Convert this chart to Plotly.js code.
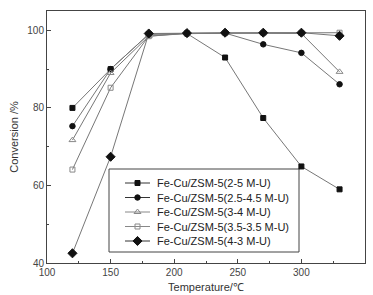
<!DOCTYPE html>
<html>
<head>
<meta charset="utf-8">
<script src="https://cdn.plot.ly/plotly-3.0.1.min.js"></script>
<style>html,body{margin:0;padding:0;background:#fff;}#chart{width:373px;height:295px;}</style>
</head>
<body>
<div id="chart"></div>
<script>
var temperature = [120, 150, 180, 210, 240, 270, 300, 330];
var names = [
  "Fe-Cu/ZSM-5(2-5 M-U)",
  "Fe-Cu/ZSM-5(2.5-4.5 M-U)",
  "Fe-Cu/ZSM-5(3-4 M-U)",
  "Fe-Cu/ZSM-5(3.5-3.5 M-U)",
  "Fe-Cu/ZSM-5(4-3 M-U)"
];
var conv_2_5     = [80.0, 90.0, 99.0, 99.2, 93.0, 77.4, 64.9, 59.0];
var conv_25_45   = [75.3, 90.0, 99.0, 99.2, 99.3, 96.4, 94.2, 86.1];
var conv_3_4     = [71.7, 89.0, 98.5, 99.2, 99.3, 99.3, 99.2, 89.3];
var conv_35_35   = [64.1, 85.2, 98.5, 99.3, 99.3, 99.3, 99.3, 99.4];
var conv_4_3     = [42.5, 67.4, 99.2, 99.3, 99.4, 99.4, 99.4, 98.6];
var seriesValues = [conv_2_5, conv_25_45, conv_3_4, conv_35_35, conv_4_3];
var symbols = ["square", "circle", "triangle-up-open", "square-open", "diamond"];
var markerColors = ["#111", "#111", "#888", "#888", "#111"];
var markerSizes = [5, 5.5, 6, 5, 7];
var lineColor = "#777";

var traces = seriesValues.map(function(v, i){
  return {
    x: temperature, y: v, name: names[i], type: "scatter", mode: "lines+markers",
    showlegend: false,
    line: {color: lineColor, width: 1},
    marker: {symbol: symbols[i], color: markerColors[i], size: markerSizes[i], line: {color: markerColors[i], width: 1}}
  };
});

// Custom legend drawn on a pixel-scaled overlay axis (layout only)
var plotL = 47, plotR = 365, plotT = 11, plotB = 263;
var legBox = {x0: 109, x1: 299, y0: 169, y1: 252};
var legRow0 = 183, legRowStep = 14.5;
var legLineX0 = 125, legLineX1 = 150, legTextX = 155;
var annotations = [];
names.forEach(function(n, i){
  var ry = legRow0 + i * legRowStep;
  traces.push({
    x: [legLineX0, legLineX1], y: [ry, ry], xaxis: "x2", yaxis: "y2",
    type: "scatter", mode: "lines", showlegend: false, hoverinfo: "skip",
    line: {color: markerColors[i] === "#111" ? "#333" : "#888", width: 1}
  });
  traces.push({
    x: [(legLineX0 + legLineX1) / 2], y: [ry], xaxis: "x2", yaxis: "y2",
    type: "scatter", mode: "markers", showlegend: false, hoverinfo: "skip",
    marker: {symbol: symbols[i], color: markerColors[i], size: markerSizes[i], line: {color: markerColors[i], width: 1}}
  });
  annotations.push({
    xref: "x2", yref: "y2", x: legTextX, y: ry, xanchor: "left", yanchor: "middle",
    text: n, showarrow: false, font: {size: 11, color: "#222"}
  });
});

var layout = {
  width: 373, height: 295,
  margin: {l: plotL, r: 373 - plotR, t: plotT, b: 295 - plotB},
  paper_bgcolor: "#fff", plot_bgcolor: "#fff",
  font: {family: "Liberation Sans, Arial, sans-serif", color: "#333", size: 10},
  showlegend: false,
  xaxis: {
    range: [100, 350], tickvals: [100, 150, 200, 250, 300, 350],
    showline: true, linecolor: "#444", linewidth: 1, mirror: true,
    ticks: "inside", ticklen: 4, tickcolor: "#444",
    minor: {dtick: 25, ticks: "inside", ticklen: 2, tickcolor: "#444", showgrid: false},
    showgrid: false, zeroline: false,
    tickfont: {size: 10, color: "#444"},
    title: {text: "Temperature/\u2103", font: {size: 11, color: "#333"}, standoff: 6}
  },
  yaxis: {
    range: [40, 105], tickvals: [40, 60, 80, 100],
    showline: true, linecolor: "#444", linewidth: 1, mirror: true,
    ticks: "inside", ticklen: 4, tickcolor: "#444",
    minor: {dtick: 10, ticks: "inside", ticklen: 2, tickcolor: "#444", showgrid: false},
    showgrid: false, zeroline: false,
    tickfont: {size: 10, color: "#444"},
    title: {text: "Conversion /%", font: {size: 11, color: "#333"}, standoff: 6}
  },
  xaxis2: {overlaying: "x", range: [plotL, plotR], visible: false, fixedrange: true},
  yaxis2: {overlaying: "y", range: [plotB, plotT], visible: false, fixedrange: true},
  shapes: [{
    type: "rect", xref: "x2", yref: "y2", layer: "below",
    x0: legBox.x0, x1: legBox.x1, y0: legBox.y0, y1: legBox.y1,
    line: {color: "#444", width: 1}, fillcolor: "#fff"
  }],
  annotations: annotations
};
Plotly.newPlot("chart", traces, layout, {displayModeBar: false, staticPlot: true});
</script>
</body>
</html>
